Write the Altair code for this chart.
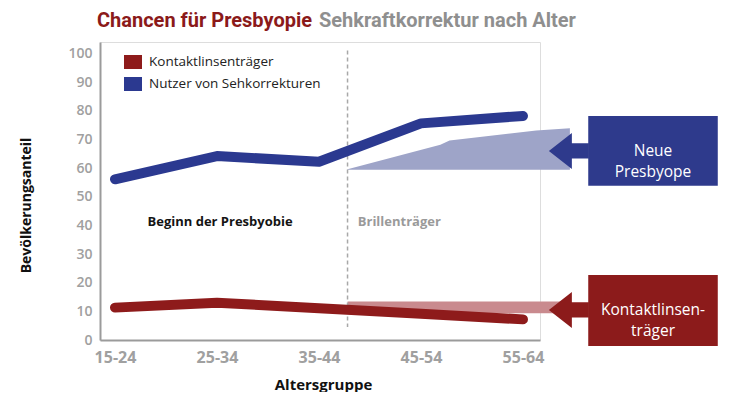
import json
import altair as alt
import pandas as pd

# ---------------- data ----------------
age_groups = ["15-24", "25-34", "35-44", "45-54", "55-64"]
series_names = ["Kontaktlinsenträger", "Nutzer von Sehkorrekturen"]
contact_lens = [11.3, 13.0, 11.1, 9.2, 7.2]
vision_correction = [56.1, 64.2, 62.2, 75.6, 78.2]
series_colors = ["#8e1b1b", "#2b3990"]

# shaded projections (x in age-group index units)
presbyope_x = [2.28, 3.19, 3.28, 4.13, 4.46]
presbyope_top = [59.6, 68.1, 69.6, 73.1, 73.9]
presbyope_base = 59.4
contact_band_x = [2.28, 4.39]
contact_band_y = [9.3, 13.4]

divider_x = 2.28
divider_y = [101, 4.5]

phase_labels = ["Beginn der Presbyobie", "Brillenträger"]
phase_label_x = [1.03, 2.38]
phase_label_y = 41.2
phase_label_colors = ["#141414", "#9a9a9a"]

callout_labels = ["Neue\nPresbyope", "Kontaktlinsen-\nträger"]
callout_box_x = [4.64, 5.91]
callout_box_y = [[53.8, 78.2], [-2.1, 22.7]]
callout_center_x = 5.275
callout_center_y = [66.0, 10.5]
callout_colors = ["#2e3a8c", "#8c1b1b"]
arrow_x = 4.45

area_colors = ["#9ea4c8", "#c98a8e"]

title_main = "Chancen für Presbyopie"
title_rest = "Sehkraftkorrektur nach Alter"

# ---------------- tables ----------------
lines_df = pd.DataFrame(
    {
        "idx": list(range(len(age_groups))) * 2,
        "value": contact_lens + vision_correction,
        "series": [series_names[0]] * len(age_groups) + [series_names[1]] * len(age_groups),
    }
)
area_df = pd.DataFrame({"x": presbyope_x, "top": presbyope_top, "base": [presbyope_base] * len(presbyope_x)})
band_df = pd.DataFrame({"x": [contact_band_x[0]], "x2": [contact_band_x[1]],
                        "y": [contact_band_y[0]], "y2": [contact_band_y[1]]})
divider_df = pd.DataFrame({"x": [divider_x], "y": [divider_y[0]], "y2": [divider_y[1]]})
phase_df = pd.DataFrame({"x": phase_label_x, "y": [phase_label_y] * 2,
                         "label": phase_labels, "color": phase_label_colors})
box_df = pd.DataFrame({
    "x": [callout_box_x[0]] * 2, "x2": [callout_box_x[1]] * 2,
    "y": [b[0] for b in callout_box_y], "y2": [b[1] for b in callout_box_y],
    "cx": [callout_center_x] * 2, "cy": callout_center_y,
    "ax": [arrow_x] * 2,
    "label": callout_labels, "color": callout_colors,
})

FONT = "Open Sans"
x_scale = alt.Scale(domain=[-0.147, 4.167], nice=False, zero=False)
y_scale = alt.Scale(domain=[0, 104], nice=False, zero=False)
label_expr = json.dumps(age_groups) + "[datum.value]"

x_axis = alt.Axis(
    values=list(range(len(age_groups))), labelExpr=label_expr, title="Altersgruppe",
    grid=False, ticks=False, domainColor="#9b9b9b", domainWidth=2,
    labelFont=FONT, labelFontSize=16, labelFontWeight="bold", labelColor="#a0a0a0",
    labelPadding=9, labelFlush=False,
    titleFont=FONT, titleFontSize=15, titleFontWeight="bold", titleColor="#111111",
    titleX=223, titleY=44, titleBaseline="middle",
)
y_axis = alt.Axis(
    values=list(range(0, 101, 10)), title="Bevölkerungsanteil",
    grid=False, ticks=False, domainColor="#9b9b9b", domainWidth=2,
    labelFont=FONT, labelFontSize=14, labelFontWeight=600, labelColor="#a0a0a0",
    labelPadding=8,
    titleFont=FONT, titleFontSize=14, titleFontWeight="bold", titleColor="#111111",
    titleX=-74, titleY=163, titleBaseline="middle", titleAlign="center", titleAngle=270,
)

X = lambda f: alt.X(f, type="quantitative", scale=x_scale, axis=x_axis)
Y = lambda f: alt.Y(f, type="quantitative", scale=y_scale, axis=y_axis)
color_scale = alt.Scale(domain=series_names, range=series_colors)

area = alt.Chart(area_df).mark_area(color=area_colors[0], opacity=1).encode(
    x=X("x"), y=Y("top"), y2="base"
)
band = alt.Chart(band_df).mark_rect(color=area_colors[1], opacity=1).encode(
    x=X("x"), x2="x2", y=Y("y"), y2="y2"
)
divider = alt.Chart(divider_df).mark_rule(color="#a8a8a8", strokeDash=[4, 3], strokeWidth=1.5).encode(
    x=X("x"), y=Y("y"), y2="y2"
)
# small filled squares (hidden beneath the thick lines) carry the legend
legend_pts = alt.Chart(lines_df).mark_point(filled=True, shape="square", size=20, opacity=1).encode(
    x=X("idx"), y=Y("value"),
    color=alt.Color(
        "series:N", scale=color_scale, sort=series_names,
        legend=alt.Legend(
            orient="none", legendX=24, legendY=11, title=None,
            symbolType="M -1 -0.78 L 1 -0.78 L 1 0.78 L -1 0.78 Z", symbolSize=324,
            symbolOpacity=1, symbolStrokeWidth=0,
            labelFont=FONT, labelFontSize=13.5, labelColor="#222222", labelOffset=7,
            labelLimit=400, rowPadding=5,
        ),
    ),
)
lines = alt.Chart(lines_df).mark_line(strokeWidth=10, strokeCap="round", strokeJoin="round").encode(
    x=X("idx"), y=Y("value"),
    color=alt.Color("series:N", scale=color_scale, sort=series_names, legend=None),
)
phase = alt.Chart(phase_df.iloc[[0]]).mark_text(font=FONT, fontSize=13, fontWeight="bold", align="center",
                                                baseline="middle").encode(
    x=X("x"), y=Y("y"), text="label", color=alt.Color("color:N", scale=None)
) + alt.Chart(phase_df.iloc[[1]]).mark_text(font=FONT, fontSize=13, fontWeight="bold", align="left",
                                             baseline="middle").encode(
    x=X("x"), y=Y("y"), text="label", color=alt.Color("color:N", scale=None)
)

boxes = alt.Chart(box_df).mark_rect(opacity=1).encode(
    x=X("x"), x2="x2", y=Y("y"), y2="y2", color=alt.Color("color:N", scale=None)
)
arrow_path = "M -1 0 L 0.15 -0.9 L 0.15 -0.38 L 1 -0.38 L 1 0.38 L 0.15 0.38 L 0.15 0.9 Z"
arrows = alt.Chart(box_df).mark_point(shape=arrow_path, size=1600, filled=True, opacity=1, strokeWidth=0).encode(
    x=X("ax"), y=Y("cy"), color=alt.Color("color:N", scale=None)
)
box_text = alt.Chart(box_df).mark_text(font=FONT, fontSize=15.5, color="white", lineBreak="\n",
                                       lineHeight=21, align="center", baseline="middle").encode(
    x=X("cx"), y=Y("cy"), text="label"
)

title_a = alt.Chart(pd.DataFrame({"t": [title_main]})).mark_text(
    font="Roboto", fontSize=20, fontWeight="bold", color="#8b1a1a", align="left", baseline="middle"
).encode(x=alt.value(-3), y=alt.value(-21), text="t")
title_b = alt.Chart(pd.DataFrame({"t": [title_rest]})).mark_text(
    font="Roboto", fontSize=20, fontWeight="bold", color="#8f8f8f", align="left", baseline="middle"
).encode(x=alt.value(219), y=alt.value(-21), text="t")

chart = alt.layer(
    area, band, divider, legend_pts, lines, phase, boxes, arrows, box_text, title_a, title_b
).properties(
    width=440, height=298,
    padding={"left": 92, "top": 34, "right": 180, "bottom": 52},
    autosize=alt.AutoSizeParams(type="none"),
).configure_view(stroke=None).configure(background="white")

chart.save("out.html", embed_options={"renderer": "svg", "actions": False})
